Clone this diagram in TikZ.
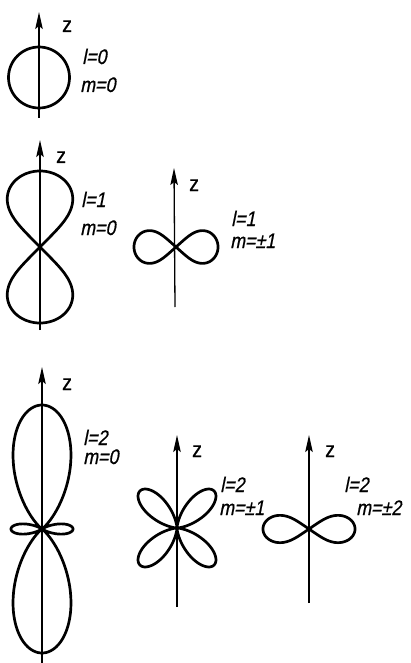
\documentclass[tikz,border=0pt]{standalone}
\usepackage{fontspec}
\setmainfont{Liberation Sans}
\newfontfamily\labfont[FakeStretch=0.85,FakeSlant=0.2,FakeBold=0.6]{Liberation Sans}
\newfontfamily\zfont[FakeStretch=0.9,FakeBold=0.6]{Liberation Sans}
\usetikzlibrary{arrows.meta}
\begin{document}
\begin{tikzpicture}[x=1pt,y=-1pt,
  axis/.style={line width=1.3pt,-{Stealth[length=17pt,width=7.5pt,inset=3pt]}},
  lobe/.style={line width=2.7pt,line join=round,samples=361,smooth,variable=\t},
  lab/.style={anchor=base west,inner sep=0pt,font=\labfont\fontsize{21}{21}\selectfont},
  zlab/.style={anchor=base west,inner sep=0pt,font=\zfont\fontsize{22}{22}\selectfont}]
\useasboundingbox (0,0) rectangle (411,663);
% lobe radius with an X crossing at +-42 degrees
\pgfmathdeclarefunction{lob}{1}{\pgfmathparse{abs(cos(#1*90/42))^0.305}}
% ---- l=0, m=0
\coordinate (c1) at (39,77.5);
\coordinate (a1b) at (39,118); \coordinate (a1t) at (39,12);
\draw[line width=2.7pt] (c1) circle[radius=30.5];
\draw[axis] (a1b) -- (a1t);
\node[zlab] (z1) at (62,32) {z};
\node[lab] (l1) at (82,64) {l=0};
\node[lab] (m1) at (80,92) {m=0};
% ---- l=1, m=0
\coordinate (c2) at (40,247);
\coordinate (a2b) at (40,330); \coordinate (a2t) at (40,140);
\draw[lobe] (c2) -- plot[domain=-41.9:41.9] ({40+84*lob(\t)*sin(\t)},{247-76*lob(\t)*cos(\t)}) -- cycle;
\draw[lobe] (c2) -- plot[domain=-41.9:41.9] ({40+84*lob(\t)*sin(\t)},{247+76*lob(\t)*cos(\t)}) -- cycle;
\draw[axis] (a2b) -- (a2t);
\node[zlab] (z2) at (56,163) {z};
\node[lab] (l2) at (81,207) {l=1};
\node[lab] (m2) at (80,235) {m=0};
% ---- l=1, m=+-1
\coordinate (c3) at (176,247);
\coordinate (a3b) at (175,307); \coordinate (a3t) at (174,168);
\draw[lobe] (c3) -- plot[domain=-41.9:41.9] ({176+42*lob(\t)*cos(\t)},{247-42*lob(\t)*sin(\t)}) -- cycle;
\draw[lobe] (c3) -- plot[domain=-41.9:41.9] ({176-42*lob(\t)*cos(\t)},{247-42*lob(\t)*sin(\t)}) -- cycle;
\draw[axis] (a3b) -- (a3t);
\node[zlab] (z3) at (189,191) {z};
\node[lab] (l3) at (231,226) {l=1};
\node[lab] (m3) at (230,248) {m=±1};
% ---- l=2, m=0
\coordinate (a4b) at (42,663); \coordinate (a4t) at (42,367);
\draw[lobe,domain=0:360] plot ({42+31*(3*cos(\t)*cos(\t)-1)*(3*cos(\t)*cos(\t)-1)*sin(\t)},{529-31*(3*cos(\t)*cos(\t)-1)*(3*cos(\t)*cos(\t)-1)*cos(\t)});
\draw[axis] (a4b) -- (a4t);
\node[zlab] (z4) at (62,390) {z};
\node[lab] (l4) at (83,445) {l=2};
\node[lab] (m4) at (83,464) {m=0};
% ---- l=2, m=+-1
\coordinate (a5b) at (177,607); \coordinate (a5t) at (177,435);
\draw[lobe,domain=0:360] plot ({177+209.6*sin(\t)*sin(\t)*cos(\t)*cos(\t)*sin(\t)},{528-209.6*sin(\t)*sin(\t)*cos(\t)*cos(\t)*cos(\t)});
\draw[axis] (a5b) -- (a5t);
\node[zlab] (z5) at (192,457) {z};
\node[lab] (l5) at (220,492) {l=2};
\node[lab] (m5) at (219,515) {m=±1};
% ---- l=2, m=+-2
\coordinate (c6) at (309,529);
\coordinate (a6b) at (309,603); \coordinate (a6t) at (309,435);
\draw[lobe] (c6) -- plot[domain=-41.9:41.9] ({309+46*lob(\t)*cos(\t)},{529-35*lob(\t)*sin(\t)}) -- cycle;
\draw[lobe] (c6) -- plot[domain=-41.9:41.9] ({309-46*lob(\t)*cos(\t)},{529-35*lob(\t)*sin(\t)}) -- cycle;
\draw[axis] (a6b) -- (a6t);
\node[zlab] (z6) at (325,457) {z};
\node[lab] (l6) at (344,492) {l=2};
\node[lab] (m6) at (356,515) {m=±2};
\end{tikzpicture}
\end{document}
